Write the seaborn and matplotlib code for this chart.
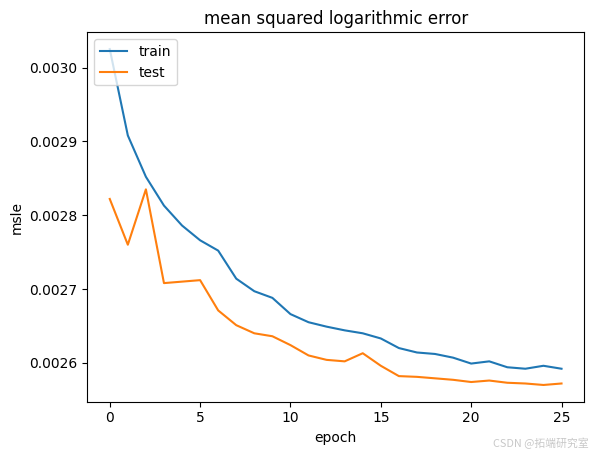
import pandas as pd
import matplotlib
matplotlib.use("Agg")
import matplotlib.pyplot as plt
import seaborn as sns

# values
epochs = list(range(26))
train_msle = [0.003025, 0.002908, 0.002852, 0.002813, 0.002786, 0.002766,
              0.002752, 0.002714, 0.002697, 0.002688, 0.002666, 0.002655,
              0.002649, 0.002644, 0.002640, 0.002633, 0.002620, 0.002614,
              0.002612, 0.002607, 0.002599, 0.002602, 0.002594, 0.002592,
              0.002596, 0.002592]
test_msle = [0.002822, 0.002760, 0.002835, 0.002708, 0.002710, 0.002712,
             0.002671, 0.002651, 0.002640, 0.002636, 0.002624, 0.002610,
             0.002604, 0.002602, 0.002613, 0.002596, 0.002582, 0.002581,
             0.002579, 0.002577, 0.002574, 0.002576, 0.002573, 0.002572,
             0.002570, 0.002572]

df = pd.DataFrame({
    "epoch": epochs * 2,
    "msle": train_msle + test_msle,
    "set": ["train"] * len(epochs) + ["test"] * len(epochs),
})

fig, ax = plt.subplots(figsize=(5.93, 4.55), dpi=100)
fig.subplots_adjust(left=0.147, right=0.985, top=0.929, bottom=0.117)

sns.lineplot(data=df, x="epoch", y="msle", hue="set", ax=ax)

ax.set_title("mean squared logarithmic error")
ax.set_xlabel("epoch")
ax.set_ylabel("msle")
ax.legend(loc="upper left")

fig.text(0.993, 0.012, "CSDN @拓端研究室", ha="right", va="bottom",
         fontsize=7.8, color="#c8c8c8",
         family=["Noto Sans CJK SC", "DejaVu Sans"])

fig.savefig("out.png", dpi=100)
